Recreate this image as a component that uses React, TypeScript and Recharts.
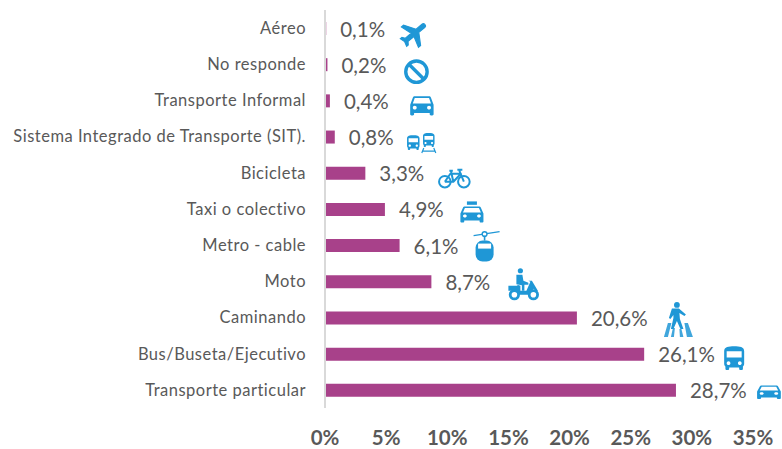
import { BarChart, Bar, XAxis, YAxis, LabelList } from 'recharts';

const categories = [
  'Aéreo',
  'No responde',
  'Transporte Informal',
  'Sistema Integrado de Transporte (SIT).',
  'Bicicleta',
  'Taxi o colectivo',
  'Metro - cable',
  'Moto',
  'Caminando',
  'Bus/Buseta/Ejecutivo',
  'Transporte particular',
];
const shares = [0.1, 0.2, 0.4, 0.8, 3.3, 4.9, 6.1, 8.7, 20.6, 26.1, 28.7];
const xTicks = [0, 5, 10, 15, 20, 25, 30, 35];

const chartData = categories.map((name, i) => ({ name, value: shares[i] }));

const BLUE = '#1f97d6';
const BAR = '#a8418a';
const TEXT = '#595959';

const CAR = 'M18.92 6.01C18.72 5.42 18.16 5 17.5 5h-11c-.66 0-1.21.42-1.42 1.01L3 12v8c0 .55.45 1 1 1h1c.55 0 1-.45 1-1v-1h12v1c0 .55.45 1 1 1h1c.55 0 1-.45 1-1v-8l-2.08-5.99zM6.5 16c-.83 0-1.5-.67-1.5-1.5S5.67 13 6.5 13s1.5.67 1.5 1.5S7.33 16 6.5 16zm11 0c-.83 0-1.5-.67-1.5-1.5s.67-1.5 1.5-1.5 1.5.67 1.5 1.5-.67 1.5-1.5 1.5zM5 11l1.5-4.5h11L19 11H5z';
const BUS = 'M4 16c0 .88.39 1.67 1 2.22V20c0 .55.45 1 1 1h1c.55 0 1-.45 1-1v-1h8v1c0 .55.45 1 1 1h1c.55 0 1-.45 1-1v-1.78c.61-.55 1-1.34 1-2.22V6c0-3.5-3.58-4-8-4s-8 .5-8 4v10zm3.5 1c-.83 0-1.5-.67-1.5-1.5S6.67 14 7.5 14s1.5.67 1.5 1.5S8.33 17 7.5 17zm9 0c-.83 0-1.5-.67-1.5-1.5s.67-1.5 1.5-1.5 1.5.67 1.5 1.5-.67 1.5-1.5 1.5zm1.5-6H6V6h12v5z';
const PLANE = 'M21 16v-2l-8-5V3.5c0-.83-.67-1.5-1.5-1.5S10 2.67 10 3.5V9l-8 5v2l8-2.5V19l-2 1.5V22l3.5-1 3.5 1v-1.5L13 19v-5.5l8 2.5z';

// icons are drawn around their own centre, in px
function Plane() {
  return <path d={PLANE} fill={BLUE} stroke={BLUE} strokeWidth={0.8} transform="rotate(50) scale(1.4) translate(-11.5,-12)" />;
}
function NoEntry() {
  return (
    <g fill="none" stroke={BLUE} strokeWidth={3.4}>
      <circle r={10.7} />
      <line x1={-7.5} y1={-7.5} x2={7.5} y2={7.5} />
    </g>
  );
}
function CarIcon({ w = 1.3, h = 1.2 }: { w?: number; h?: number }) {
  return <path d={CAR} fill={BLUE} transform={`scale(${w},${h}) translate(-12,-13)`} />;
}
function BusIcon({ s = 1.25 }: { s?: number }) {
  return <path d={BUS} fill={BLUE} transform={`scale(${s}) translate(-12,-11.5)`} />;
}
function Sit() {
  return (
    <g>
      <g transform="translate(-7.5,1.5)"><BusIcon s={0.78} /></g>
      <g transform="translate(8,-1)">
        <path d={BUS} fill={BLUE} transform="scale(0.72,0.74) translate(-12,-11.5)" />
        <path d="M-5 8l-2 5M5 8l2 5M-6 11h12" stroke={BLUE} strokeWidth={1.2} fill="none" />
      </g>
    </g>
  );
}
function Bike() {
  return (
    <g fill="none" stroke={BLUE} strokeWidth={2}>
      <circle cx={-9.5} cy={3.5} r={5.8} />
      <circle cx={9.5} cy={3.5} r={5.8} />
      <path d="M-9.5 3.5L-4 -4.5H6.5L-1 3.5H-9.5M-5 -7.5H-1.5M-3.5 -7.5L-1 3.5M5 -7.5L9.5 3.5M3 -8.5H8" strokeLinejoin="round" />
    </g>
  );
}
function Taxi() {
  return (
    <g>
      <rect x={-5} y={-11} width={10} height={3.4} fill={BLUE} />
      <g transform="translate(0,2)"><CarIcon w={1.28} h={1.0} /></g>
    </g>
  );
}
function Cable() {
  return (
    <g>
      <line x1={-11} y1={-11} x2={15} y2={-15} stroke={BLUE} strokeWidth={1.4} />
      <circle cy={-12.5} r={2.4} fill="#fff" stroke={BLUE} strokeWidth={1.4} />
      <line x1={0} y1={-11} x2={0} y2={-6} stroke={BLUE} strokeWidth={1.6} />
      <rect x={-9} y={-6} width={18} height={21} rx={7} fill={BLUE} />
      <rect x={-6.5} y={-3} width={13} height={5} fill="#fff" />
    </g>
  );
}
function Scooter() {
  return (
    <g fill={BLUE}>
      <circle cx={-3} cy={-12} r={2.6} />
      <path d="M-7 -8h6l1 6 5 2v2h-4v6h-2.500v-5.500l-5.500-1z" />
      <path d="M-15 3h9v-1l3 1v5h6l4-9-2-1h3.500l6 10-1.500 1-3-3-3 6h-15l-2-4h-5z" />
      <circle cx={-9} cy={12} r={4.2} fill="#fff" stroke={BLUE} strokeWidth={2.8} />
      <circle cx={10} cy={12} r={4.2} fill="#fff" stroke={BLUE} strokeWidth={2.8} />
    </g>
  );
}
function Walker() {
  return (
    <g fill={BLUE}>
      <circle cx={-1} cy={-15} r={2.9} />
      <path d="M-6 -11.500h7l7 6-1.500 1.500-5-3 .5 6 3.500 10h-3l-3.500-8-3.500 8h-2.500l2.500-11v-3l-3 4-1.500-1z" />
      <path d="M-14 17l4-14h3.500l-3.500 14zM-7 17l2-9h2l-1 9zM2 17l-.5-8h2l2 8zM9 17l-2.500-14h3.500l5 14z" opacity={0.85} />
    </g>
  );
}

const iconFor = [
  { el: <Plane />, dx: 74, dy: 5 },
  { el: <NoEntry />, dx: 75, dy: 7 },
  { el: <CarIcon />, dx: 78, dy: 5 },
  { el: <Sit />, dx: 72, dy: 4 },
  { el: <Bike />, dx: 75, dy: 5 },
  { el: <Taxi />, dx: 73, dy: 3 },
  { el: <Cable />, dx: 71, dy: 1 },
  { el: <Scooter />, dx: 78, dy: 1 },
  { el: <Walker />, dx: 87, dy: 2 },
  { el: <BusIcon />, dx: 76, dy: 4 },
  { el: <CarIcon w={1.32} h={0.85} />, dx: 79, dy: 2 },
];

function ValueLabel(props: any) {
  const { x, y, width, height, index } = props;
  const cy = y + height / 2;
  const left = x + width + 14;
  const icon = iconFor[index];
  return (
    <g>
      <text x={left} y={cy} dominantBaseline="central" fontFamily="Lato" fontSize={20.5} fill={TEXT}>
        {shares[index].toFixed(1).replace('.', ',')}%
      </text>
      <g transform={`translate(${left + icon.dx},${cy + icon.dy})`}>{icon.el}</g>
    </g>
  );
}

export default function App() {
  return (
    <div style={{ position: 'absolute', left: 0, top: 0, width: 782, height: 449, overflow: 'hidden' }}>
      <BarChart
        width={782}
        height={449}
        data={chartData}
        layout="vertical"
        barSize={13}
        margin={{ top: 10, right: 29, bottom: 0, left: 0 }}
      >
        <XAxis
          type="number"
          domain={[0, 35]}
          ticks={xTicks}
          height={41}
          tickFormatter={(v: number) => `${v}%`}
          axisLine={false}
          tickLine={false}
          tick={{ fill: TEXT, fontFamily: 'Lato', fontWeight: 700, fontSize: 20.5, dy: 14.5 }}
          interval={0}
        />
        <YAxis
          type="category"
          dataKey="name"
          width={325}
          interval={0}
          tickLine={false}
          axisLine={{ stroke: '#d9d9d9', strokeWidth: 2 }}
          tickMargin={13}
          tick={{ fill: TEXT, fontFamily: 'Lato', fontSize: 16.5, letterSpacing: 0.5 }}
        />
        <Bar dataKey="value" fill={BAR} isAnimationActive={false}>
          <LabelList dataKey="value" content={ValueLabel} />
        </Bar>
      </BarChart>
    </div>
  );
}
